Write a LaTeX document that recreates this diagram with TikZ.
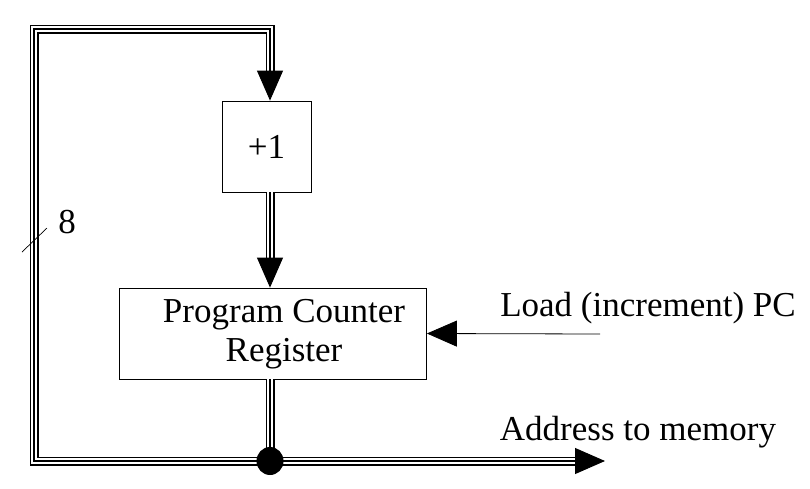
\documentclass[tikz,border=0pt]{standalone}
\usepackage{fontspec}
\setmainfont{Liberation Serif}
\usetikzlibrary{calc}
\usetikzlibrary{arrows.meta}

\tikzset{
    bus/.style={line width=9pt,line join=miter,
        postaction={draw,white,line width=5.4pt},
        postaction={draw,black,line width=1.8pt}},
    tip/.style={-{Triangle[length=30pt,width=26pt]},line width=1pt},
    block/.style={draw,line width=0.8pt,inner sep=0pt},
    lbl/.style={inner sep=0pt,align=center}
}

\begin{document}
\begin{tikzpicture}[x=1pt,y=-1pt,font=\fontsize{35}{39}\selectfont]
    \useasboundingbox (0,0) rectangle (810,488);
    % the two blocks
    \node[block,minimum width=89pt,minimum height=91pt] (plus) at (266.5,146.5) {+1};
    \node[block,minimum width=307pt,minimum height=91pt] (pc) at (273,333.5) {};
    \node[lbl] (pctext) at (284,334) {Program Counter\\Register};
    % corner points of the feedback bus
    \coordinate (col) at (270,0);
    \coordinate (dot) at (col |- 0,461);
    \coordinate (bl) at (34,461);
    \coordinate (tl) at (34,29);
    \coordinate (tr) at (col |- 0,29);
    \coordinate (pin) at (col |- plus.north);
    \coordinate (pout) at (col |- plus.south);
    \coordinate (rin) at (col |- pc.north);
    \coordinate (rout) at (col |- pc.south);
    \coordinate (out) at (605,461);
    \coordinate (ld) at (600,334);
    % feedback bus from the output back to +1
    \draw[bus,shorten >=20pt] (dot) -- (bl) -- (tl) -- (tr) -- (pin);
    \draw[tip] ($(pin)+(0,-30)$) -- (pin);
    % +1 into the register
    \draw[bus,shorten >=20pt] (pout) -- (rin);
    \draw[tip] ($(rin)+(0,-30)$) -- (rin);
    % register output
    \draw[bus] (rout) -- (dot);
    \draw[bus,shorten >=20pt] (dot) -- (out);
    \draw[tip] ($(out)+(-30,0)$) -- (out);
    \fill (dot) ellipse (13.5pt and 14pt);
    % load signal
    \draw[tip,line width=0.8pt] (ld) -- (pc.east);
    % labels
    \node[lbl] (loadlbl) at (648,308) {Load (increment) PC};
    \node[lbl] (addrlbl) at (638,432) {Address to memory};
    % bus width mark
    \draw[line width=0.7pt] (22,252) -- (47,228);
    \node[lbl] (width) at (67,222) {8};
\end{tikzpicture}
\end{document}
